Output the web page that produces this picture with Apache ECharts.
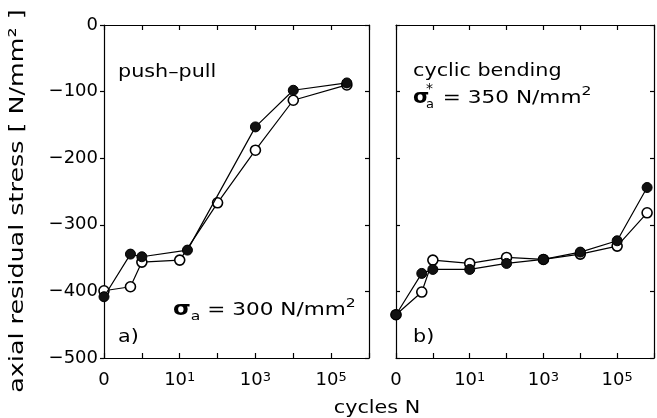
<!DOCTYPE html>
<html>
<head>
<meta charset="utf-8">
<script src="https://cdn.jsdelivr.net/npm/echarts@6/dist/echarts.min.js"></script>
<style>
html,body{margin:0;padding:0;background:#fff;}
#c{width:657px;height:418px;}
</style>
</head>
<body>
<div id="c"></div>
<script>
// ---- data (cycles N, axial residual stress N/mm^2) ----
const cyclesAFilled = [0, 0.5, 1, 16, 1000, 10000, 260000];
const stressAFilled = [-408, -344, -348, -338, -153, -98, -87];
const cyclesAOpen   = [0, 0.5, 1, 10, 100, 1000, 10000, 260000];
const stressAOpen   = [-399, -393, -356, -353, -267, -188, -113, -90];

const cyclesB       = [0, 0.5, 1, 10, 100, 1000, 10000, 100000, 650000];
const stressBFilled = [-435, -373, -367, -367, -358, -352, -341, -324, -244];
const stressBOpen   = [-435, -401, -353, -358, -349, -352, -344, -332, -282];

const yTicks = [0, -100, -200, -300, -400, -500];
const xTickLabels = {0: '0', 2: '10{sup|1}', 4: '10{sup|3}', 6: '10{sup|5}'};

// position on the decade axis: 0 -> N = 0, k -> N = 10^(k-1)
const xPos = n => n === 0 ? 0 : Math.log10(n) + 1;
const pts = (xs, ys) => xs.map((n, i) => [xPos(n), ys[i]]);

const FONT = 'DejaVu Sans';
const black = '#000';
const lineSt = {color: black, width: 1.2};

function xAx(grid, pos, labels) {
  return {
    gridIndex: grid, type: 'value', min: 0, max: 7, interval: 1, position: pos,
    axisLine: {show: true, onZero: false, lineStyle: lineSt},
    axisTick: {show: true, inside: true, length: 5, lineStyle: lineSt},
    splitLine: {show: false},
    axisLabel: labels ? {
      show: true, margin: 13, color: black, fontFamily: FONT, fontSize: 18,
      formatter: v => xTickLabels[v] !== undefined ? xTickLabels[v] : '',
      rich: {sup: {fontSize: 13, fontFamily: FONT, color: black, verticalAlign: 'top', lineHeight: 12}}
    } : {show: false}
  };
}
function yAx(grid, pos, labels, inside) {
  return {
    gridIndex: grid, type: 'value', min: -500, max: 0, interval: 100, position: pos,
    axisLine: {show: true, onZero: false, lineStyle: lineSt},
    axisTick: {show: true, inside: inside, length: 4, lineStyle: lineSt},
    splitLine: {show: false},
    axisLabel: labels ? {
      show: true, margin: 6, color: black, fontFamily: FONT, fontSize: 18,
      formatter: v => yTicks.indexOf(v) >= 0 ? (v === 0 ? '0' : '\u2212' + Math.abs(v)) : ''
    } : {show: false}
  };
}

function ser(x, y, data, filled) {
  return {
    type: 'line', xAxisIndex: x, yAxisIndex: y, data: data,
    symbol: 'circle', symbolSize: 10, z: filled ? 4 : 3,
    lineStyle: {color: black, width: 1.2},
    itemStyle: filled ? {color: '#111', borderColor: '#000', borderWidth: 1}
                      : {color: '#fff', borderColor: '#000', borderWidth: 1.6},
    emphasis: {disabled: true}, silent: true
  };
}

const T = (x, y, text, extra) => Object.assign({
  type: 'text', x: x, y: y, scaleX: 1.15, silent: true,
  style: Object.assign({text: text, fill: black, font: '18px "' + FONT + '"',
    textAlign: 'left', textVerticalAlign: 'middle'}, extra && extra.style || {})
}, extra && extra.el || {});

const richSig = {
  sig: {fontFamily: FONT, fontSize: 19, fontWeight: 'bold', fill: black, lineHeight: 26},
  sub: {fontFamily: FONT, fontSize: 13, fill: black, verticalAlign: 'bottom', lineHeight: 18},
  n: {fontFamily: FONT, fontSize: 18, fill: black, lineHeight: 26},
  sup: {fontFamily: FONT, fontSize: 13, fill: black, verticalAlign: 'top', lineHeight: 12}
};

const chart = echarts.init(document.getElementById('c'), null, {renderer: 'canvas'});
chart.setOption({
  animation: false,
  backgroundColor: '#fff',
  grid: [
    {left: 104, top: 25, width: 265, height: 333},
    {left: 396, top: 25, width: 266, height: 333}
  ],
  xAxis: [xAx(0, 'bottom', true), xAx(0, 'top', false), xAx(1, 'bottom', true), xAx(1, 'top', false)],
  yAxis: [yAx(0, 'left', true, false), yAx(0, 'right', false, true), yAx(1, 'left', false, true), yAx(1, 'right', false, true)],
  series: [
    ser(0, 0, pts(cyclesAOpen, stressAOpen), false),
    ser(0, 0, pts(cyclesAFilled, stressAFilled), true),
    ser(2, 2, pts(cyclesB, stressBOpen), false),
    ser(2, 2, pts(cyclesB, stressBFilled), true)
  ],
  graphic: [
    {type: 'text', x: 18, y: 201, rotation: Math.PI / 2, scaleX: 1.27, silent: true,
     style: {text: 'axial residual stress [ N/mm\u00b2 ]', fill: black, font: '20px "' + FONT + '"',
             textAlign: 'center', textVerticalAlign: 'middle'}},
    T(377, 408, 'cycles N', {style: {textAlign: 'center'}}),
    T(118, 72, 'push\u2013pull'),
    T(118, 337, 'a)'),
    T(413, 71, 'cyclic bending'),
    T(413, 337, 'b)'),
    {type: 'text', x: 173, y: 310, scaleX: 1.2, silent: true,
     style: {text: '{sig|\u03c3}{sub|a}{n| = 300 N/mm}{sup|2}', rich: richSig,
             textAlign: 'left', textVerticalAlign: 'middle'}},
    {type: 'text', x: 413, y: 98, scaleX: 1.1, silent: true,
     style: {text: '\u03c3', fill: black, font: 'bold 19px "' + FONT + '"', textAlign: 'left', textVerticalAlign: 'middle'}},
    {type: 'text', x: 426, y: 89, silent: true,
     style: {text: '*', fill: black, font: '14px "' + FONT + '"', textAlign: 'left', textVerticalAlign: 'middle'}},
    {type: 'text', x: 426, y: 105, silent: true,
     style: {text: 'a', fill: black, font: '13px "' + FONT + '"', textAlign: 'left', textVerticalAlign: 'middle'}},
    {type: 'text', x: 436, y: 98, scaleX: 1.2, silent: true,
     style: {text: '{n| = 350 N/mm}{sup|2}', rich: richSig, textAlign: 'left', textVerticalAlign: 'middle'}}
  ]
});
</script>
</body>
</html>
